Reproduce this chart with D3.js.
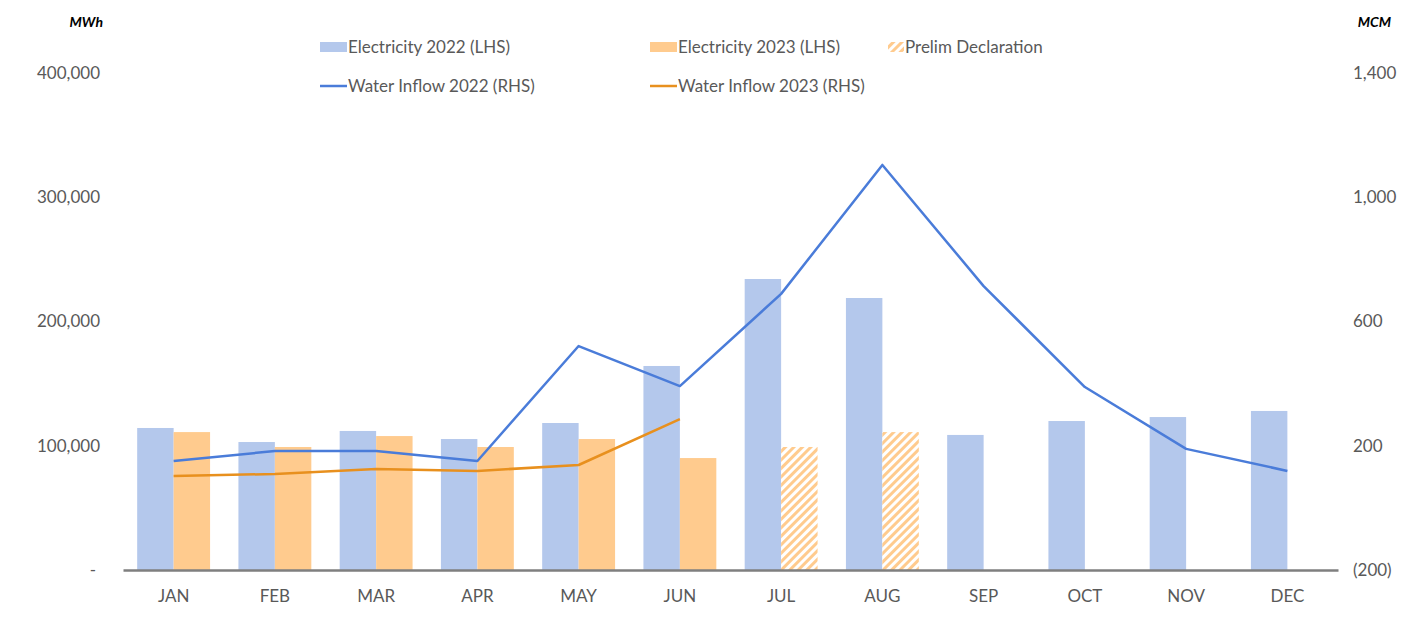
<!DOCTYPE html>
<html>
<head>
<meta charset="utf-8">
<script src="https://cdn.jsdelivr.net/npm/d3@7"></script>
<style>
    body { margin: 0; background: #ffffff; }
    svg text { font-family: Lato, 'Open Sans', sans-serif; fill: #595959; }
</style>
</head>
<body>
<svg></svg>
<script>

// Set variables

let months = ['JAN', 'FEB', 'MAR', 'APR', 'MAY', 'JUN', 'JUL', 'AUG', 'SEP', 'OCT', 'NOV', 'DEC']

let elec2022 = [114300, 103000, 111900, 105400, 118300, 164200, 234200, 218900, 108700, 119900, 123100, 128000]
let elec2023 = [111000, 99000, 107800, 99000, 105400, 90100, null, null, null, null, null, null]
let prelim2023 = [null, null, null, null, null, null, 99000, 111000, null, null, null, null]

let water2022 = [151, 183, 183, 151, 521, 392, 689, 1104, 714, 389, 190, 119]
let water2023 = [103, 109, 125, 119, 138, 286]

let leftTicks = [0, 100000, 200000, 300000, 400000]
let rightTicks = [-200, 200, 600, 1000, 1400]

let width = 1425
let height = 624

let plotLeft = 123
let plotRight = 1338
let plotTop = 73
let plotBottom = 570

let blueBar = '#b4c8ec'
let orangeBar = '#ffcb8e'
let blueLine = '#4a7cd9'
let orangeLine = '#e8901e'

let fontSize = '17px'

let svg = d3.select('svg')

let xScale
let yLeft
let yRight

// Draw canvas

let drawCanvas = () => {
    svg.attr('width', width)
    svg.attr('height', height)

    let pattern = svg.append('defs')
        .append('pattern')
        .attr('id', 'hatch')
        .attr('patternUnits', 'userSpaceOnUse')
        .attr('width', 6)
        .attr('height', 6)
        .attr('patternTransform', 'rotate(45)')

    pattern.append('rect')
        .attr('width', 6)
        .attr('height', 6)
        .attr('fill', '#ffffff')

    pattern.append('rect')
        .attr('width', 3)
        .attr('height', 6)
        .attr('fill', orangeBar)
}

// Generate scales

let generateScales = () => {
    xScale = d3.scaleBand()
        .domain(months)
        .range([plotLeft, plotRight])
        .paddingInner(0.28)
        .paddingOuter(0.14)

    yLeft = d3.scaleLinear()
        .domain([0, 400000])
        .range([plotBottom, plotTop])

    yRight = d3.scaleLinear()
        .domain([-200, 1400])
        .range([plotBottom, plotTop])
}

// Draw bars

let drawBars = () => {
    let half = xScale.bandwidth() / 2
    let center = (m) => xScale(m) + half

    svg.append('g')
        .selectAll('rect')
        .data(months)
        .enter()
        .append('rect')
        .attr('x', (m) => center(m) - half)
        .attr('y', (m, i) => yLeft(elec2022[i]))
        .attr('width', half)
        .attr('height', (m, i) => yLeft(0) - yLeft(elec2022[i]))
        .attr('fill', blueBar)

    svg.append('g')
        .selectAll('rect')
        .data(months.filter((m, i) => elec2023[i] != null))
        .enter()
        .append('rect')
        .attr('x', (m) => center(m))
        .attr('y', (m, i) => yLeft(elec2023[i]))
        .attr('width', half)
        .attr('height', (m, i) => yLeft(0) - yLeft(elec2023[i]))
        .attr('fill', orangeBar)

    let prelimMonths = months.filter((m, i) => prelim2023[i] != null)
    let prelimValues = prelim2023.filter((v) => v != null)

    svg.append('g')
        .selectAll('rect')
        .data(prelimMonths)
        .enter()
        .append('rect')
        .attr('x', (m) => center(m))
        .attr('y', (m, i) => yLeft(prelimValues[i]))
        .attr('width', half)
        .attr('height', (m, i) => yLeft(0) - yLeft(prelimValues[i]))
        .attr('fill', 'url(#hatch)')
}

// Draw lines

let drawLines = () => {
    let center = (m) => xScale(m) + xScale.bandwidth() / 2

    let line = d3.line()
        .x((d, i) => center(months[i]))
        .y((d) => yRight(d))

    svg.append('path')
        .datum(water2022)
        .attr('d', line)
        .attr('fill', 'none')
        .attr('stroke', blueLine)
        .attr('stroke-width', 2.5)
        .attr('stroke-linejoin', 'round')

    svg.append('path')
        .datum(water2023)
        .attr('d', line)
        .attr('fill', 'none')
        .attr('stroke', orangeLine)
        .attr('stroke-width', 2.5)
        .attr('stroke-linejoin', 'round')
}

// Generate the axes

let generateAxes = () => {
    let xAxis = d3.axisBottom(xScale)
        .tickSize(0)
        .tickPadding(20)

    let xg = svg.append('g')
        .call(xAxis)
        .attr('transform', 'translate(0, ' + plotBottom + ')')
    xg.select('.domain')
        .attr('stroke', '#7f7f7f')
        .attr('stroke-width', 2.5)
    xg.selectAll('text')
        .style('font-size', fontSize)
        .style('font-family', 'Lato, sans-serif')
        .attr('fill', '#595959')

    let leftAxis = d3.axisLeft(yLeft)
        .tickValues(leftTicks)
        .tickSize(0)
        .tickFormat((d) => d === 0 ? '-' : d3.format(',')(d))

    let lg = svg.append('g')
        .call(leftAxis)
        .attr('transform', 'translate(100, 0)')
    lg.select('.domain').remove()
    lg.selectAll('text')
        .attr('x', 0)
        .style('font-size', fontSize)
        .style('font-family', 'Lato, sans-serif')
        .attr('fill', '#595959')
    lg.selectAll('.tick')
        .filter((d) => d === 0)
        .select('text')
        .attr('x', -4)

    let rightAxis = d3.axisRight(yRight)
        .tickValues(rightTicks)
        .tickSize(0)
        .tickFormat((d) => d < 0 ? '(' + d3.format(',')(-d) + ')' : d3.format(',')(d))

    let rg = svg.append('g')
        .call(rightAxis)
        .attr('transform', 'translate(1353, 0)')
    rg.select('.domain').remove()
    rg.selectAll('text')
        .attr('x', 0)
        .style('font-size', fontSize)
        .style('font-family', 'Lato, sans-serif')
        .attr('fill', '#595959')

    svg.append('text')
        .attr('x', 103)
        .attr('y', 27)
        .attr('text-anchor', 'end')
        .style('font-size', '14px')
        .style('font-weight', 'bold')
        .style('font-style', 'italic')
        .style('fill', '#000000')
        .text('MWh')

    svg.append('text')
        .attr('x', 1391)
        .attr('y', 27)
        .attr('text-anchor', 'end')
        .style('font-size', '14px')
        .style('font-weight', 'bold')
        .style('font-style', 'italic')
        .style('fill', '#000000')
        .text('MCM')
}

// Draw legend

let drawLegend = () => {
    let items = [
        { label: 'Electricity 2022 (LHS)', kind: 'bar', fill: blueBar, x: 320, y: 47 },
        { label: 'Electricity 2023 (LHS)', kind: 'bar', fill: orangeBar, x: 650, y: 47 },
        { label: 'Prelim Declaration', kind: 'hatch', fill: 'url(#hatch)', x: 888, y: 47 },
        { label: 'Water Inflow 2022 (RHS)', kind: 'line', fill: blueLine, x: 320, y: 86 },
        { label: 'Water Inflow 2023 (RHS)', kind: 'line', fill: orangeLine, x: 650, y: 86 }
    ]

    let legend = svg.append('g')

    items.forEach((item) => {
        let sw = item.kind === 'hatch' ? 16 : 27
        if (item.kind === 'line') {
            legend.append('line')
                .attr('x1', item.x)
                .attr('x2', item.x + sw)
                .attr('y1', item.y)
                .attr('y2', item.y)
                .attr('stroke', item.fill)
                .attr('stroke-width', 2.5)
        } else {
            legend.append('rect')
                .attr('x', item.x)
                .attr('y', item.y - 5)
                .attr('width', sw)
                .attr('height', 10)
                .attr('fill', item.fill)
        }
        legend.append('text')
            .attr('x', item.x + sw + 1)
            .attr('y', item.y)
            .attr('dy', '0.35em')
            .style('font-size', fontSize)
            .text(item.label)
    })
}

drawCanvas()
generateScales()
drawBars()
drawLines()
generateAxes()
drawLegend()

</script>
</body>
</html>
